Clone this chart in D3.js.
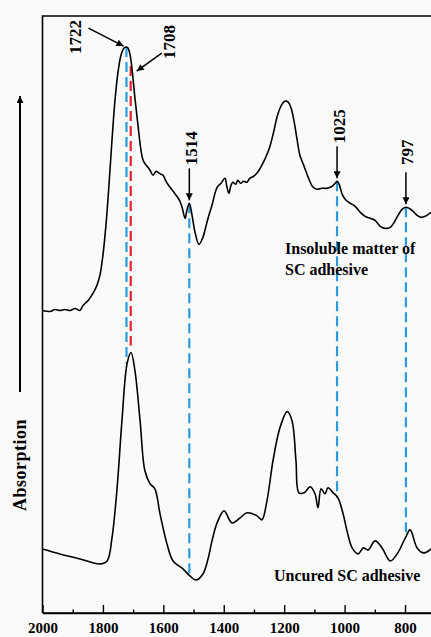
<!DOCTYPE html>
<html>
<head>
<meta charset="utf-8">
<script src="https://cdn.jsdelivr.net/npm/d3@7"></script>
<style>
  html, body { margin: 0; padding: 0; background: #fafafa; }
  svg { display: block; font-family: "Liberation Serif", "Times New Roman", serif; }
</style>
</head>
<body>
<svg id="chart" width="431" height="637"></svg>
<script>
// wavenumbers (cm-1) and absorption (a.u.)
const upperWn = [2000, 1975, 1959, 1942, 1926, 1909, 1892, 1876, 1866, 1849, 1833, 1820, 1810, 1800, 1790,
  1780, 1770, 1760, 1750, 1740, 1730, 1722, 1717, 1710, 1704, 1694, 1684, 1674, 1667, 1657, 1651, 1644,
  1634, 1624, 1618, 1608, 1601, 1591, 1578, 1565, 1555, 1545, 1538, 1528, 1522, 1514, 1505, 1495, 1482,
  1469, 1459, 1452, 1439, 1422, 1409, 1396, 1390, 1383, 1377, 1370, 1360, 1354, 1344, 1334, 1324, 1314,
  1301, 1288, 1274, 1261, 1248, 1235, 1222, 1207, 1197, 1187, 1177, 1168, 1158, 1148, 1138, 1128, 1118,
  1104, 1091, 1075, 1058, 1041, 1031, 1025, 1018, 1008, 995, 981, 965, 948, 932, 915, 899, 882, 866, 849,
  836, 823, 810, 797, 787, 773, 760, 747, 733, 714];
const upperAbs = [3.02, 3.01, 3.03, 3.02, 3.03, 3.02, 3.04, 3.02, 3.07, 3.12, 3.19, 3.27, 3.37, 3.57, 3.87,
  4.27, 4.72, 5.12, 5.40, 5.57, 5.64, 5.65, 5.64, 5.57, 5.44, 5.14, 4.87, 4.62, 4.52, 4.47, 4.45, 4.42,
  4.37, 4.41, 4.40, 4.38, 4.37, 4.31, 4.25, 4.20, 4.16, 4.11, 4.05, 3.94, 4.02, 4.09, 3.97, 3.80, 3.68,
  3.75, 3.86, 3.94, 4.07, 4.25, 4.29, 4.34, 4.26, 4.19, 4.26, 4.30, 4.28, 4.32, 4.29, 4.31, 4.30, 4.34,
  4.36, 4.40, 4.47, 4.55, 4.65, 4.80, 4.97, 5.08, 5.11, 5.10, 5.04, 4.92, 4.74, 4.57, 4.49, 4.41, 4.33,
  4.25, 4.23, 4.24, 4.24, 4.26, 4.29, 4.31, 4.28, 4.18, 4.12, 4.09, 4.06, 4.00, 3.96, 3.94, 3.92, 3.86, 3.84, 3.85,
  3.90, 3.97, 4.03, 4.05, 4.04, 4.01, 3.97, 3.95, 3.96, 4.00];

const lowerWn = [2000, 1942, 1876, 1810, 1786, 1770, 1753, 1737, 1720, 1707, 1694, 1677, 1661, 1644, 1628,
  1611, 1588, 1568, 1535, 1512, 1492, 1469, 1452, 1439, 1422, 1399, 1373, 1346, 1323, 1290, 1274, 1257,
  1237, 1214, 1190, 1174, 1161, 1151, 1134, 1114, 1098, 1088, 1078, 1065, 1055, 1038, 1022, 1005, 992,
  975, 955, 938, 922, 899, 876, 849, 826, 799, 783, 760, 737, 714];
const lowerAbs = [0.64, 0.59, 0.54, 0.49, 0.52, 0.75, 1.25, 1.92, 2.49, 2.60, 2.42, 1.92, 1.42, 1.29, 1.24,
  0.99, 0.69, 0.52, 0.44, 0.37, 0.33, 0.39, 0.54, 0.72, 0.90, 1.02, 0.90, 0.95, 1.00, 0.97, 0.93, 1.12,
  1.52, 1.85, 2.01, 1.92, 1.52, 1.20, 1.20, 1.26, 1.19, 1.05, 1.24, 1.19, 1.25, 1.20, 1.15, 0.99, 0.82,
  0.65, 0.59, 0.65, 0.63, 0.72, 0.65, 0.52, 0.59, 0.75, 0.83, 0.65, 0.60, 0.64];

// marked bands: wavenumber, colour, top and bottom of the dashed guide (a.u.)
const bandWn = [1722, 1708, 1514, 1025, 797];
const bandColor = ["#2b9be0", "#e8202a", "#2b9be0", "#2b9be0", "#2b9be0"];
const bandTop = [5.65, 5.46, 4.09, 4.31, 4.05];
const bandBottom = [2.49, 2.67, 0.35, 1.15, 0.79];

const majorTicks = [2000, 1800, 1600, 1400, 1200, 1000, 800];
const minorTicks = [1900, 1700, 1500, 1300, 1100, 900];

const seriesLabels = [["Insoluble matter of", "SC adhesive"], ["Uncured SC adhesive"]];
const yTitle = "Absorption";

const svg = d3.select("#chart");
const margin = { left: 42.5, top: 16, bottom: 613 };
const W = 431;

const x = d3.scaleLinear().domain([2000, 714]).range([margin.left, W]);
const y = d3.scaleLinear().domain([0, 5.96]).range([margin.bottom, margin.top]);

const defs = svg.append("defs");
defs.append("marker")
  .attr("id", "head")
  .attr("viewBox", "0 0 10 10")
  .attr("refX", 10).attr("refY", 5)
  .attr("markerUnits", "userSpaceOnUse")
  .attr("markerWidth", 8).attr("markerHeight", 7)
  .attr("orient", "auto")
  .append("path").attr("d", "M0,0 L10,5 L0,10 Z").attr("fill", "#000");
defs.append("clipPath").attr("id", "plot")
  .append("rect").attr("x", margin.left).attr("y", margin.top)
  .attr("width", W - margin.left).attr("height", margin.bottom - margin.top);

// frame (left + top; right side is cut off in the figure)
svg.append("path")
  .attr("d", `M${W},${margin.top}H${margin.left}V${margin.bottom}`)
  .attr("fill", "none").attr("stroke", "#000").attr("stroke-width", 1.6);

// x axis
const gx = svg.append("g").attr("transform", `translate(0,${margin.bottom})`);
gx.call(d3.axisBottom(x).tickValues(majorTicks).tickSizeInner(-8).tickSizeOuter(0).tickPadding(9)
  .tickFormat(d3.format("d")));
gx.append("g").call(d3.axisBottom(x).tickValues(minorTicks).tickSizeInner(-3.5).tickSizeOuter(0)
  .tickFormat(""));
gx.selectAll(".domain").attr("stroke", "#000").attr("stroke-width", 1.6);
gx.selectAll(".tick line").attr("stroke", "#000").attr("stroke-width", 1.4);
gx.selectAll(".tick text")
  .attr("font-family", "Liberation Serif, serif")
  .attr("font-size", 15).attr("font-weight", "bold").attr("fill", "#000");
gx.select(".domain").attr("d", `M${margin.left},0H${W}`);

// dashed guides
const bands = bandWn.map((w, i) => ({ w, color: bandColor[i], top: bandTop[i], bottom: bandBottom[i] }));
svg.append("g").selectAll("line").data(bands).join("line")
  .attr("x1", d => x(d.w)).attr("x2", d => x(d.w))
  .attr("y1", d => y(d.top)).attr("y2", d => y(d.bottom))
  .attr("stroke", d => d.color).attr("stroke-width", 2.2)
  .attr("stroke-dasharray", "10,5");

// spectra
const line = d3.line().x(d => x(d[0])).y(d => y(d[1])).curve(d3.curveCatmullRom.alpha(0.5));
const curves = svg.append("g").attr("clip-path", "url(#plot)");
curves.append("path").datum(d3.zip(upperWn, upperAbs))
  .attr("d", line).attr("fill", "none").attr("stroke", "#000").attr("stroke-width", 1.6);
curves.append("path").datum(d3.zip(lowerWn, lowerAbs))
  .attr("d", line).attr("fill", "none").attr("stroke", "#000").attr("stroke-width", 1.6);

// peak annotations
const ann = svg.append("g").attr("font-size", 17).attr("font-weight", "bold");
function vText(cx, cy, txt) {
  // rotated label, centred on (cx, cy)
  ann.append("text")
    .attr("transform", `translate(${cx + 5.5},${cy}) rotate(-90)`)
    .attr("text-anchor", "middle").text(txt);
}
function arrow(x1, y1, x2, y2) {
  ann.append("line").attr("x1", x1).attr("y1", y1).attr("x2", x2).attr("y2", y2)
    .attr("stroke", "#000").attr("stroke-width", 1.5).attr("marker-end", "url(#head)");
}
// 1722 and 1708: slanted arrows
{
  const tx = x(1722) - 3, ty = y(5.65) - 1;
  arrow(tx - 35, ty - 18, tx, ty);
  vText(tx - 48, ty - 9, "1722");
  const rx = x(1708) + 6, ry = y(5.46) + 5;
  arrow(rx + 25, ry - 18, rx, ry);
  vText(rx + 33, ry - 29, "1708");
}
// vertical arrows
bands.filter(d => [1514, 1025, 797].includes(d.w)).forEach(d => {
  const tx = x(d.w), ty = y(d.top) - 3;
  arrow(tx, ty - 32, tx, ty);
  vText(tx + 2, ty - 32 - 3 - 17, String(d.w));
});

// series labels
const lab = svg.append("g").attr("font-size", 16).attr("font-weight", "bold");
lab.append("text").attr("x", 285).attr("y", 254).text(seriesLabels[0][0]);
lab.append("text").attr("x", 285).attr("y", 275).text(seriesLabels[0][1]);
lab.append("text").attr("x", 274).attr("y", 581).text(seriesLabels[1][0]);

// y title with upward arrow
svg.append("line").attr("x1", 20).attr("x2", 20).attr("y1", 392).attr("y2", 96)
  .attr("stroke", "#000").attr("stroke-width", 2).attr("marker-end", "url(#head)");
svg.append("text")
  .attr("transform", "translate(26,465) rotate(-90)")
  .attr("text-anchor", "middle")
  .attr("font-size", 18).attr("font-weight", "bold")
  .attr("letter-spacing", 0.5)
  .text(yTitle);
</script>
</body>
</html>
